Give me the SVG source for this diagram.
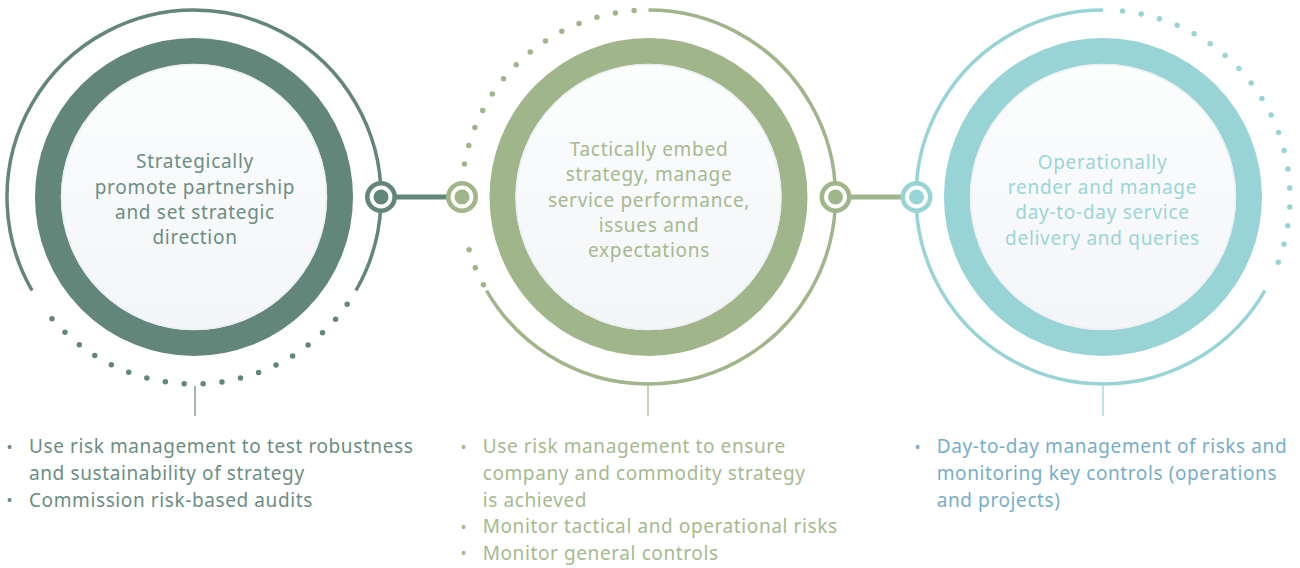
<svg xmlns="http://www.w3.org/2000/svg" width="1300" height="568" viewBox="0 0 1300 568">
  <defs>
    <linearGradient id="face" x1="0" y1="0" x2="0" y2="1">
      <stop offset="0" stop-color="#fcfdfd"/>
      <stop offset="1" stop-color="#f3f5f8"/>
    </linearGradient>
    <style>
      .face { fill: url(#face); stroke: #eceff3; stroke-width: 1.5; }
      .ring { fill: none; stroke-width: 26; }
      .arc { fill: none; stroke-width: 3.5; }
      .dots { fill: none; stroke-width: 5.5; stroke-linecap: round; stroke-dasharray: 0 18.92; }
      .tick { stroke-width: 1.2; }
      .title { font-family: "Noto Sans", "Liberation Sans", sans-serif; font-size: 19px; letter-spacing: 0.7px; text-anchor: middle; }
      .note { font-family: "Noto Sans", "Liberation Sans", sans-serif; font-size: 19px; letter-spacing: 0.6px; }
      .bul { font-family: "Noto Sans", "Liberation Sans", sans-serif; font-size: 16px; }
      .hub { fill: #ffffff; stroke-width: 4.6; }
      .s1 { stroke: #62877a; } .f1 { fill: #62877a; } .t1 { fill: #6b8d82; }
      .s2 { stroke: #a0b68a; } .f2 { fill: #a0b68a; } .t2 { fill: #a4ba8f; }
      .s3 { stroke: #98d4d6; } .f3 { fill: #98d4d6; } .t3 { fill: #9bd5d7; } .n3 { fill: #78adc9; }
    </style>
  </defs>

  <!-- Node 1: Strategic -->
  <g id="node-strategic">
    <path class="arc s1" d="M32.05 290.5 A187 187 0 1 1 355.95 290.5"/>
    <path class="dots s1" d="M347.18 304.26 A187 187 0 0 1 40.82 304.26"/>
    <circle class="ring s1" cx="194" cy="197" r="146"/>
    <circle class="face" cx="194" cy="197" r="132.5"/>
    <text class="title t1" x="195" y="168.3">Strategically</text>
    <text class="title t1" x="195" y="193.6">promote partnership</text>
    <text class="title t1" x="195" y="219">and set strategic</text>
    <text class="title t1" x="195" y="244.3">direction</text>
    <line class="tick s1" x1="195" y1="386" x2="195" y2="416"/>
  </g>

  <!-- Node 2: Tactical -->
  <g id="node-tactical">
    <path class="arc s2" d="M648.5 10 A187 187 0 1 1 486.55 290.5"/>
    <path class="dots s2" d="M483.39 284.79 A187 187 0 0 1 464.69 231.40"/>
    <path class="dots s2" d="M464.45 163.89 A187 187 0 0 1 634.15 10.55"/>
    <circle class="ring s2" cx="648.5" cy="197" r="146"/>
    <circle class="face" cx="648.5" cy="197" r="132.5"/>
    <text class="title t2" x="649" y="156">Tactically embed</text>
    <text class="title t2" x="649" y="181.3">strategy, manage</text>
    <text class="title t2" x="649" y="206.6">service performance,</text>
    <text class="title t2" x="649" y="232">issues and</text>
    <text class="title t2" x="649" y="257.3">expectations</text>
    <line class="tick s2" x1="648" y1="386" x2="648" y2="416"/>
  </g>

  <!-- Node 3: Operational -->
  <g id="node-operational">
    <path class="arc s3" d="M1264.95 290.5 A187 187 0 1 1 1103 10"/>
    <path class="dots s3" d="M1122.55 11.02 A187 187 0 0 1 1270.79 279.56"/>
    <circle class="ring s3" cx="1103" cy="197" r="146"/>
    <circle class="face" cx="1103" cy="197" r="132.5"/>
    <text class="title t3" x="1102.5" y="168.5">Operationally</text>
    <text class="title t3" x="1102.5" y="193.8">render and manage</text>
    <text class="title t3" x="1102.5" y="219">day-to-day service</text>
    <text class="title t3" x="1102.5" y="244.5">delivery and queries</text>
    <line class="tick s3" x1="1103" y1="386" x2="1103" y2="416"/>
  </g>

  <!-- Connectors -->
  <g id="connectors">
    <line class="s1" x1="396" y1="197" x2="447" y2="197" stroke-width="5"/>
    <line class="s2" x1="851" y1="197" x2="901" y2="197" stroke-width="5"/>
    <circle class="hub s1" cx="381" cy="197" r="13.7"/>
    <circle class="f1" cx="381" cy="197" r="7.5"/>
    <circle class="hub s2" cx="462" cy="197" r="13.7"/>
    <circle class="f2" cx="462" cy="197" r="7.5"/>
    <circle class="hub s2" cx="835.5" cy="197" r="13.7"/>
    <circle class="f2" cx="835.5" cy="197" r="7.5"/>
    <circle class="hub s3" cx="916.5" cy="197" r="13.7"/>
    <circle class="f3" cx="916.5" cy="197" r="7.5"/>
  </g>

  <!-- Notes -->
  <g id="notes-strategic">
    <text class="bul t1" x="6.5" y="452.5">•</text>
    <text class="note t1" x="29" y="453.3">Use risk management to test robustness</text>
    <text class="note t1" x="29" y="480">and sustainability of strategy</text>
    <text class="bul t1" x="6.5" y="506">•</text>
    <text class="note t1" x="29" y="506.7">Commission risk-based audits</text>
  </g>
  <g id="notes-tactical">
    <text class="bul t2" x="460.5" y="452.5">•</text>
    <text class="note t2" x="482.7" y="453.3">Use risk management to ensure</text>
    <text class="note t2" x="482.7" y="480">company and commodity strategy</text>
    <text class="note t2" x="482.7" y="506.7">is achieved</text>
    <text class="bul t2" x="460.5" y="532.5">•</text>
    <text class="note t2" x="482.7" y="533.3">Monitor tactical and operational risks</text>
    <text class="bul t2" x="460.5" y="559.2">•</text>
    <text class="note t2" x="482.7" y="560">Monitor general controls</text>
  </g>
  <g id="notes-operational">
    <text class="bul n3" x="914.5" y="452.5">•</text>
    <text class="note n3" x="936.7" y="453.3">Day-to-day management of risks and</text>
    <text class="note n3" x="936.7" y="480">monitoring key controls (operations</text>
    <text class="note n3" x="936.7" y="506.7">and projects)</text>
  </g>
</svg>
